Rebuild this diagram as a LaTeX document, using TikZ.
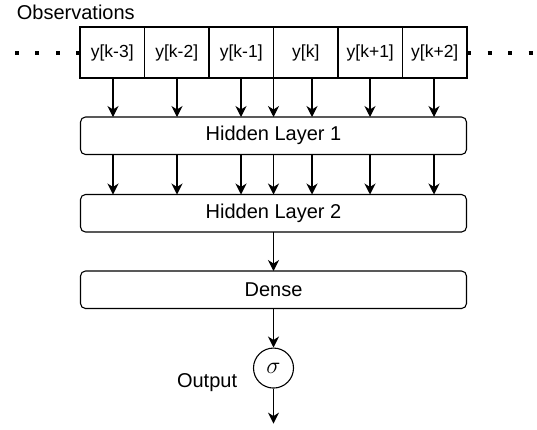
\documentclass[tikz,border=0pt]{standalone}
\usepackage{graphicx}
\usepackage{fontspec}
\setmainfont{Liberation Sans}
\usepackage{tikz}
\usetikzlibrary{chains,positioning,arrows.meta}
\newcommand\bigtext{\fontsize{20}{24}\selectfont}
\newcommand\boxtext{\fontsize{17.5}{21}\selectfont}

\begin{document}
\begin{tikzpicture}[
x=1pt, y=1pt,
obs/.style={
	draw, rectangle, outer sep=0pt, inner sep=0pt,
	minimum width=64.5pt, minimum height=51pt,
	font=\boxtext
},
layer/.style={
	draw, rounded corners=5pt, outer sep=0pt, inner sep=0pt,
	minimum width=386pt, minimum height=37.5pt
},
arr/.style={-{Stealth[length=11pt,width=11pt,inset=3.5pt]}},
dots/.style={line width=4pt, dash pattern=on 4pt off 16.5pt},
start chain=going right, node distance=0pt, line width=1.1pt, font=\bigtext
]
\useasboundingbox (0,0) rectangle (537,-429);
\node[obs,on chain] at (112.25,-52.5) (obs1) {y[k-3]};
\node[obs,on chain] (obs2) {y[k-2]};
\node[obs,on chain] (obs3) {y[k-1]};
\node[obs,on chain] (obs4) {y[k]};
\node[obs,on chain] (obs5) {y[k+1]};
\node[obs,on chain] (obs6) {y[k+2]};
\node[anchor=west] at (13,-12) (obslabel) {Observations};
\draw[dots] (obs1.west) -- ++(-66,0);
\draw[dots] (obs6.east) -- ++(70,0);

\node[layer, below=39pt of obs3.south east] (hl1) {Hidden Layer 1};
\node[layer, below=40pt of hl1] (hl2) {Hidden Layer 2};
\node[layer, below=39pt of hl2] (dense) {Dense};
\node[draw, circle, minimum size=40pt, inner sep=0pt,
      below=39pt of dense] (sigma) {\scalebox{1.15}{$\sigma$}};
\node[left=18pt of sigma.south west] (output) {Output};
\coordinate[below=35pt of sigma.south] (end);

\foreach \x in {113,177,241,273.5,312,370,434}
{
	\draw[arr] (\x,0 |- obs1.south) -- (\x,0 |- hl1.north);
	\draw[arr] (\x,0 |- hl1.south) -- (\x,0 |- hl2.north);
}
\draw[arr] (hl2) -- (dense);
\draw[arr] (dense) -- (sigma);
\draw[arr] (sigma) -- (end);
\end{tikzpicture}
\end{document}
